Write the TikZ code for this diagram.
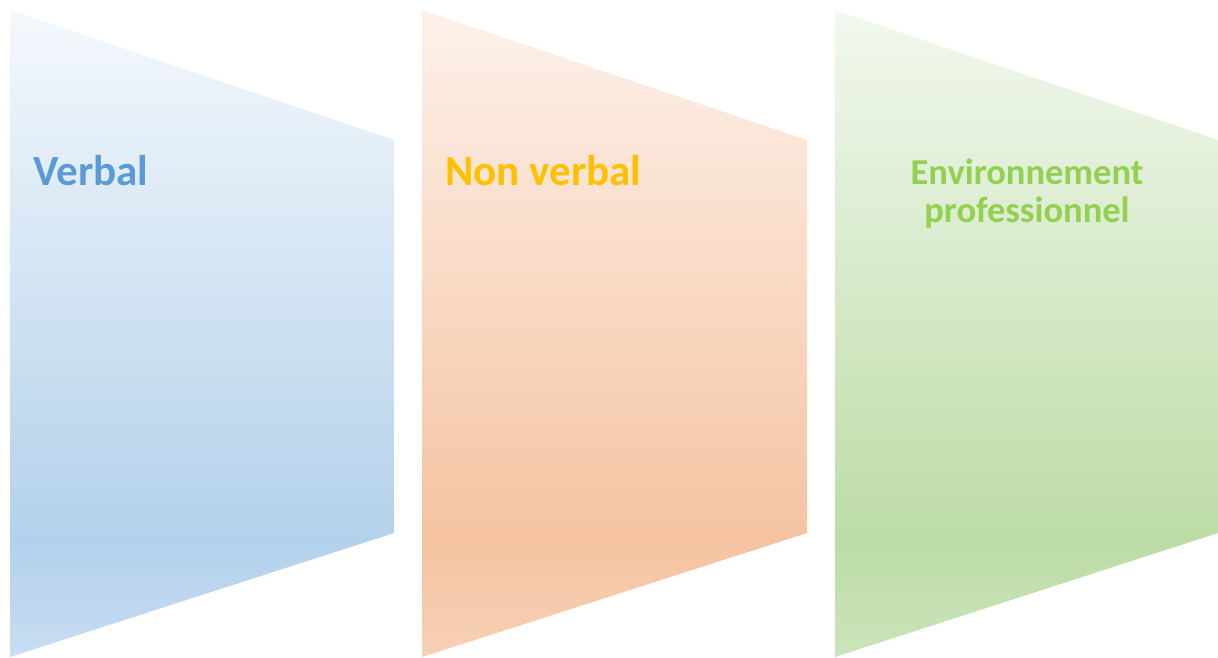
\documentclass[tikz,border=0pt]{standalone}
\usepackage{fontspec}
\setmainfont{Carlito}
\definecolor{bTop}{HTML}{F4F8FC}
\definecolor{bDark}{HTML}{B3D1EB}
\definecolor{bBot}{HTML}{C8DDF1}
\definecolor{oTop}{HTML}{FDF1EA}
\definecolor{oDark}{HTML}{F5C3A1}
\definecolor{oBot}{HTML}{F7D0B6}
\definecolor{gTop}{HTML}{F2F8EE}
\definecolor{gDark}{HTML}{BCDCA6}
\definecolor{gBot}{HTML}{CBE4BA}
\definecolor{tBlue}{HTML}{5B9BD5}
\definecolor{tOrange}{HTML}{FFC000}
\definecolor{tGreen}{HTML}{92D050}
\pgfdeclareverticalshading{blueshade}{100bp}{color(0bp)=(bBot); color(25bp)=(bBot); color(34bp)=(bDark); color(75bp)=(bTop); color(100bp)=(bTop)}
\pgfdeclareverticalshading{orangeshade}{100bp}{color(0bp)=(oBot); color(25bp)=(oBot); color(34bp)=(oDark); color(75bp)=(oTop); color(100bp)=(oTop)}
\pgfdeclareverticalshading{greenshade}{100bp}{color(0bp)=(gBot); color(25bp)=(gBot); color(34bp)=(gDark); color(75bp)=(gTop); color(100bp)=(gTop)}
\tikzset{
  lbl/.style={font=\fontsize{43}{49}\selectfont\bfseries, inner sep=0pt, anchor=base west},
  lblsmall/.style={font=\fontsize{36.5}{42}\selectfont\bfseries, inner sep=0pt, anchor=base},
}
\begin{document}
\begin{tikzpicture}[x=1pt,y=-1pt]
\useasboundingbox (0,0) rectangle (1218,657);
\shade[shading=blueshade] (10,10) -- (394,140) -- (394,533) -- (10,657) -- cycle;
\shade[shading=orangeshade] (422,10) -- (807,140) -- (807,533) -- (422,657) -- cycle;
\shade[shading=greenshade] (835,10) -- (1218,140) -- (1218,533) -- (835,657) -- cycle;
\node[lbl, text=tBlue] (verbal) at (33,185) {Verbal};
\node[lbl, text=tOrange] (nonverbal) at (445,185) {Non verbal};
\node[lblsmall, text=tGreen] (env1) at (1027,184) {Environnement};
\node[lblsmall, text=tGreen] (env2) at (1027,222) {professionnel};
\end{tikzpicture}
\end{document}
